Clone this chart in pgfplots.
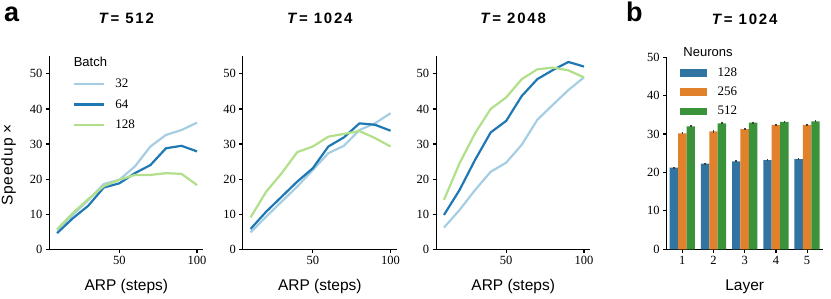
\documentclass[border=0pt]{standalone}
\usepackage{pgfplots}
\pgfplotsset{compat=1.18}
\usepackage{fontspec}
\setmainfont{Liberation Serif}
\setsansfont{Liberation Sans}
\definecolor{lb}{HTML}{A6CEE3}
\definecolor{db}{HTML}{1F78B4}
\definecolor{lg}{HTML}{B2DF8A}
\definecolor{bb}{HTML}{3274A1}
\definecolor{bo}{HTML}{E1812C}
\definecolor{bg}{HTML}{3A923A}
\newcommand{\ttl}[1]{{\sffamily\bfseries\fontsize{15bp}{16bp}\selectfont\addfontfeature{LetterSpace=12}\textit{T}= #1}}
\pgfplotsset{
  base/.style={
    scale only axis, height=193.3bp, clip mode=individual,
    axis x line*=bottom, axis y line*=left,
    axis line style={-, line width=1.3bp, black},
    tick align=outside, major tick length=3.5bp,
    tick style={line width=1.2bp, black},
    /pgf/number format/assume math mode=true,
    ticklabel style={font=\fontsize{12.5bp}{13bp}\selectfont},
    label style={font=\sffamily\fontsize{15.5bp}{16bp}\selectfont},
    xlabel style={at={(axis description cs:0.5,0)}, anchor=base, yshift=-41bp},
    title style={at={(axis description cs:0.5,1)}, anchor=base, yshift=26.5bp},
  },
  panel/.style={
    base, width=154bp,
    xmin=5, xmax=104, ymin=0, ymax=55.1,
    xtick={50,100}, ytick={0,10,20,30,40,50},
    xlabel={ARP (steps)},
    every axis plot/.append style={line width=2.2bp, line join=round},
  },
}
\begin{document}
\begin{tikzpicture}
\useasboundingbox (0,0) rectangle (831bp,299bp);
\node[anchor=base west, inner sep=0pt, font=\sffamily\bfseries\fontsize{27bp}{28bp}\selectfont] at (4bp,277.3bp) {a};
\node[anchor=base west, inner sep=0pt, font=\sffamily\bfseries\fontsize{27bp}{28bp}\selectfont] at (626bp,277.3bp) {b};

% ---------- a1 ----------
\begin{axis}[panel, at={(49.3bp,49.7bp)}, anchor=south west,
  title={\ttl{512}},
  ylabel={{\addfontfeature{LetterSpace=6}Speedup ×}},
  ylabel style={at={(axis description cs:-0.2377,0.436)}, anchor=base},
  legend style={at={(axis description cs:0.135,0.893)}, anchor=north west, draw=none, fill=none,
    font=\fontsize{13bp}{14bp}\selectfont, row sep=10.5bp, column sep=10bp,
    nodes={inner sep=0pt}},
  legend cell align=left,
  legend image code/.code={\draw[#1] (0bp,0bp) -- (30bp,0bp);},
]
\addplot[lb] coordinates {(10,5.5)(20,9.8)(30,14.0)(40,18.6)(50,19.8)(60,23.6)(70,29.3)(80,32.6)(90,34.0)(100,36.1)};
\addplot[db] coordinates {(10,4.6)(20,8.8)(30,12.4)(40,17.6)(50,18.8)(60,21.7)(70,24.0)(80,28.8)(90,29.5)(100,27.9)};
\addplot[lg] coordinates {(10,5.7)(20,10.3)(30,14.3)(40,18.0)(50,19.8)(60,21.2)(70,21.2)(80,21.7)(90,21.5)(100,18.3)};
\legend{32,64,128}
\node[font=\sffamily\fontsize{13bp}{14bp}\selectfont, anchor=base] at (axis description cs:0.267,0.946) {Batch};
\end{axis}

% ---------- a2 ----------
\begin{axis}[panel, at={(242.8bp,49.7bp)}, anchor=south west, title={\ttl{1024}}]
\addplot[lb] coordinates {(10,4.8)(20,9.3)(30,13.6)(40,17.9)(50,22.6)(60,27.4)(70,29.5)(80,34.0)(90,35.9)(100,38.8)};
\addplot[db] coordinates {(10,5.8)(20,10.7)(30,15.0)(40,19.3)(50,23.1)(60,29.3)(70,31.9)(80,35.9)(90,35.5)(100,33.8)};
\addplot[lg] coordinates {(10,9.1)(20,16.4)(30,21.7)(40,27.7)(50,29.3)(60,32.1)(70,32.9)(80,33.7)(90,31.7)(100,29.3)};
\end{axis}

% ---------- a3 ----------
\begin{axis}[panel, at={(436.2bp,49.7bp)}, anchor=south west, title={\ttl{2048}}]
\addplot[lb] coordinates {(10,6.2)(20,11.2)(30,16.9)(40,22.1)(50,24.7)(60,29.8)(70,36.9)(80,41.2)(90,45.4)(100,49.0)};
\addplot[db] coordinates {(10,9.8)(20,16.9)(30,25.5)(40,33.3)(50,36.6)(60,43.7)(70,48.5)(80,51.1)(90,53.4)(100,52.1)};
\addplot[lg] coordinates {(10,14.1)(20,24.5)(30,33.1)(40,40.0)(50,43.3)(60,48.5)(70,51.3)(80,51.8)(90,51.0)(100,49.0)};
\end{axis}

% ---------- b ----------
\begin{axis}[base, width=156bp, height=192bp, at={(666.7bp,49.7bp)}, anchor=south west,
  title={\ttl{1024}},
  xmin=0.5, xmax=5.5, ymin=0, ymax=50,
  xtick={1,2,3,4,5}, ytick={0,10,20,30,40,50},
  xlabel={Layer},
  ybar, bar width=0.27,
  legend style={at={(axis description cs:0.062,0.957)}, anchor=north west, draw=none, fill=none,
    font=\fontsize{13bp}{14bp}\selectfont, row sep=9.2bp, column sep=11bp,
    nodes={inner sep=0pt}},
  legend cell align=left,
  legend image code/.code={\fill[#1] (0bp,-3.9bp) rectangle (27bp,3.9bp);},
]
\addplot[fill=bb, draw=none, bar shift=-0.27,
  error bars/.cd, y dir=both, y explicit, error mark=none,
  error bar style={line width=1.6bp, color=black!75}]
  coordinates {(1,21.3)+-(0,0.25) (2,22.3)+-(0,0.25) (3,22.9)+-(0,0.25) (4,23.2)+-(0,0.25) (5,23.5)+-(0,0.25)};
\addplot[fill=bo, draw=none, bar shift=0,
  error bars/.cd, y dir=both, y explicit, error mark=none,
  error bar style={line width=1.6bp, color=black!75}]
  coordinates {(1,30.2)+-(0,0.25) (2,30.7)+-(0,0.35) (3,31.3)+-(0,0.35) (4,32.4)+-(0,0.25) (5,32.4)+-(0,0.25)};
\addplot[fill=bg, draw=none, bar shift=0.27,
  error bars/.cd, y dir=both, y explicit, error mark=none,
  error bar style={line width=1.6bp, color=black!75}]
  coordinates {(1,32.0)+-(0,0.25) (2,32.8)+-(0,0.25) (3,33.0)+-(0,0.25) (4,33.2)+-(0,0.25) (5,33.3)+-(0,0.25)};
\legend{128,256,512}
\node[font=\sffamily\fontsize{13bp}{14bp}\selectfont, anchor=base] at (axis description cs:0.265,1.004) {Neurons};
\end{axis}
\end{tikzpicture}
\end{document}
